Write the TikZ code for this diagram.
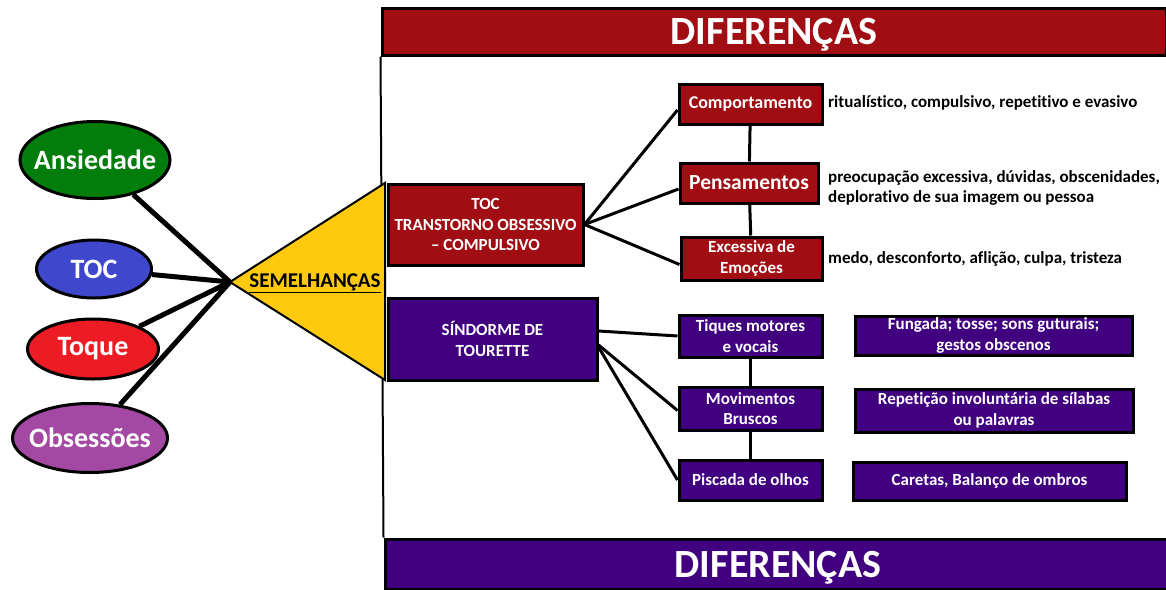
\documentclass[tikz,border=0pt]{standalone}
\usepackage{fontspec}
\setmainfont[Ligatures=NoCommon]{Carlito}
\usetikzlibrary{shapes.geometric}
\definecolor{diffred}{RGB}{160,14,20}
\definecolor{diffpurple}{RGB}{64,0,128}
\definecolor{ansgreen}{RGB}{0,125,10}
\definecolor{tocblue}{RGB}{63,72,204}
\definecolor{toqred}{RGB}{237,28,36}
\definecolor{obspurple}{RGB}{163,73,164}
\definecolor{semyellow}{RGB}{255,201,14}
\newcommand{\fs}[1]{\fontsize{#1}{1.2\dimexpr#1pt\relax}\selectfont\bfseries}

\begin{document}
\begin{tikzpicture}[x=1pt, y=-1pt,
  banner/.style={draw=black, line width=3pt, text=white, font=\fs{40},
    minimum height=47pt, inner sep=0pt, text depth=0pt},
  elip/.style={ellipse, draw=black, line width=3pt, text=white, font=\fs{28},
    inner sep=0pt, inner xsep=-12pt},
  box/.style={draw=black, line width=3pt, text=white, align=center, inner sep=1pt},
  redbox/.style={box, fill=diffred},
  purplebox/.style={box, fill=diffpurple},
  link/.style={line width=5pt},
  thinlink/.style={line width=3pt},
  desc/.style={anchor=west, align=left, font=\fs{17}, inner sep=0pt}]
  \useasboundingbox (0,0) rectangle (1166,589);

  % banners and frame line
  \node[banner, fill=diffred, minimum width=784pt] (topban) at (774,31.5) {DIFERENÇAS};
  \node[banner, fill=diffpurple, minimum width=786pt, minimum height=50pt] (botban) at (778,564) {DIFERENÇAS};
  \draw[line width=2pt] (topban.south west) -- (botban.north west);

  % semelhancas
  \coordinate (apex) at (230,282);
  \fill[semyellow, draw=black, line width=2pt] (apex) -- (385,183) -- (385,380) -- cycle;
  \node[font=\fs{21}, inner sep=0pt] (sem) at (315,283) {\underline{SEMELHANÇAS}};

  \foreach \n/\t/\c/\x/\y/\w/\h in {ans/Ansiedade/ansgreen/95/160/150/77,
      toc/TOC/tocblue/94/269/115/58, toq/Toque/toqred/93/349/131/60,
      obs/Obsessões/obspurple/90/438/155/69}{
    \node[elip, fill=\c, minimum width=\w pt, minimum height=\h pt] (\n) at (\x,\y) {\t};
    \draw[link] (\n) -- (apex);
  }

  % TOC
  \node[redbox, font=\fs{17}, minimum width=195pt, minimum height=81pt] (tocbox) at (485.5,224.5)
    {TOC\\TRANSTORNO OBSESSIVO\\– COMPULSIVO};
  \node[redbox, font=\fs{18}, minimum width=143pt, minimum height=40pt] (comp) at (750.5,104) {Comportamento};
  \node[redbox, font=\fs{21.5}, minimum width=138pt, minimum height=40pt] (pens) at (749,183) {Pensamentos};
  \node[redbox, font=\fs{17}, minimum width=141pt, minimum height=43pt] (emo) at (751.5,258.5) {Excessiva de\\Emoções};
  \draw[thinlink] (tocbox.east) -- ([yshift=-6pt]comp.west);
  \draw[thinlink] (tocbox.east) -- ([yshift=-6pt]pens.west);
  \draw[thinlink] (tocbox.east) -- ([yshift=-6pt]emo.west);
  \draw[thinlink] (comp) -- (pens);
  \draw[thinlink] (pens) -- (emo);
  \node[desc] (compd) at (828,103) {ritualístico, compulsivo, repetitivo e evasivo};
  \node[desc] (pensd) at (828,188) {preocupação excessiva, dúvidas, obscenidades,\\deplorativo de sua imagem ou pessoa};
  \node[desc] (emod) at (828,259) {medo, desconforto, aflição, culpa, tristeza};

  % Tourette
  \node[purplebox, font=\fs{17}, minimum width=209pt, minimum height=82pt] (tour) at (492.5,339)
    {SÍNDORME DE\\TOURETTE};
  \node[purplebox, font=\fs{17}, minimum width=143pt, minimum height=42pt] (tiq) at (750.5,336) {Tiques motores\\e vocais};
  \node[purplebox, font=\fs{17}, minimum width=143pt, minimum height=43pt] (mov) at (750.5,408.5) {Movimentos\\Bruscos};
  \node[purplebox, font=\fs{17}, minimum width=143pt, minimum height=40pt] (pisc) at (750.5,480) {Piscada de olhos};
  \draw[thinlink] ([yshift=8pt]tour.east) -- (tiq.west);
  \draw[thinlink] ([yshift=-6pt]tour.east) -- ([yshift=-2pt]mov.west);
  \draw[thinlink] ([yshift=-8pt]tour.east) -- (pisc.west);
  \draw[thinlink] (tiq) -- (mov);
  \draw[thinlink] (mov) -- (pisc);
  \node[purplebox, font=\fs{17}, minimum width=277pt, minimum height=39pt] (fung) at (993.5,335.5) {Fungada; tosse; sons guturais;\\gestos obscenos};
  \node[purplebox, font=\fs{17}, minimum width=278pt, minimum height=43pt] (rep) at (994,410.5) {Repetição involuntária de sílabas\\ou palavras};
  \node[purplebox, font=\fs{17}, minimum width=273pt, minimum height=38pt] (car) at (989.5,481) {Caretas, Balanço de ombros};
\end{tikzpicture}
\end{document}
